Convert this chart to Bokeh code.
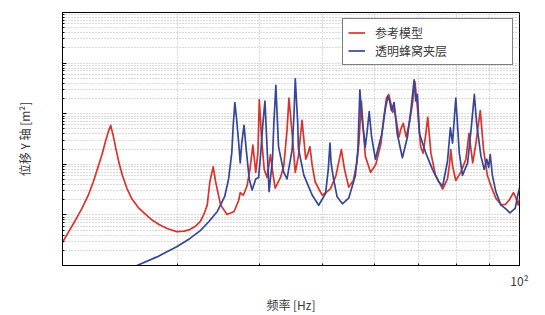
from bokeh.plotting import figure
from bokeh.models import FixedTicker, CustomJSTickFormatter, Legend, LegendItem
from bokeh.embed import file_html
from bokeh.resources import INLINE

# ---- data (frequency in Hz, displacement in m^2) ----
red_freq = [20.0, 20.4, 20.9, 21.4, 21.9, 22.3, 22.7, 23.0, 23.3, 23.5,
            23.7, 23.9, 24.1, 24.4, 24.7, 25.1, 25.5, 26.1, 26.8, 27.4,
            28.1, 28.9, 29.9, 30.7, 31.3, 31.9, 32.5, 32.9, 33.3, 33.6,
            34.0, 34.3, 34.9, 35.7,
            36.6, 37.2, 37.4, 37.8, 38.3, 38.7, 39.1, 39.5, 39.8, 40.0,
            40.3, 40.7, 41.1, 41.6, 42.0, 42.3, 43.1, 43.6, 44.1, 44.4,
            44.9, 45.4, 45.9, 46.5, 47.1, 47.4, 47.8, 48.2, 48.7, 49.9,
            50.8, 51.4, 52.4, 53.4, 54.0, 54.8, 55.7, 56.4, 56.8, 57.3,
            57.6, 58.1, 59.2, 60.3, 61.4, 62.0, 62.6, 63.1, 63.6, 64.0,
            64.3, 64.8, 65.4, 65.9, 66.4, 67.1, 67.8, 68.6, 69.2, 69.8,
            70.6, 71.2, 71.8, 72.4, 73.2, 74.4, 76.3, 77.6, 78.2, 78.5,
            79.0, 79.9, 81.3, 82.8, 83.7, 84.8, 85.8, 86.4, 87.1, 88.1,
            89.3, 90.4, 92.0, 93.8, 95.2, 96.4, 97.9, 98.8, 99.5, 100.0]
red_disp = [2.88e-10, 4.47e-10, 7.59e-10, 1.32e-9, 2.45e-9, 4.57e-9, 9.33e-9, 1.62e-8, 3.02e-8, 4.37e-8,
            5.89e-8, 3.80e-8, 2.24e-8, 1.07e-8, 6.03e-9, 3.31e-9, 2.14e-9, 1.41e-9, 1.02e-9, 7.94e-10,
            6.46e-10, 5.37e-10, 4.68e-10, 4.79e-10, 5.13e-10, 5.89e-10, 7.41e-10, 1.02e-9, 1.58e-9, 4.47e-9,
            8.91e-9, 4.47e-9, 1.58e-9, 1.02e-9,
            1.17e-9, 1.95e-9, 2.75e-9, 2.45e-9, 3.72e-9, 7.94e-9, 2.40e-8, 6.92e-9, 1.66e-8, 1.91e-7,
            3.47e-8, 7.94e-9, 5.50e-9, 1.55e-8, 6.03e-9, 3.39e-9, 5.50e-9, 9.33e-9, 4.68e-8, 2.04e-7,
            4.07e-8, 6.92e-9, 1.45e-8, 7.41e-8, 1.26e-8, 1.55e-8, 2.24e-8, 9.33e-9, 4.47e-9, 2.45e-9,
            2.88e-9, 3.31e-9, 6.03e-9, 1.95e-8, 7.94e-9, 3.55e-9, 4.79e-9, 1.07e-8, 2.63e-8, 1.78e-7,
            6.31e-8, 1.45e-8, 6.92e-9, 1.00e-8, 2.63e-8, 8.51e-8, 2.04e-7, 2.40e-7, 1.55e-7, 1.07e-7,
            1.32e-7, 7.41e-8, 3.47e-8, 5.13e-8, 6.46e-8, 3.47e-8, 6.31e-8, 1.58e-7, 4.27e-7, 1.32e-7,
            2.24e-8, 1.66e-8, 3.47e-8, 8.51e-8, 1.66e-8, 6.03e-9, 3.24e-9, 5.13e-9, 1.07e-8, 1.95e-8,
            9.33e-9, 4.79e-9, 6.92e-9, 1.26e-8, 4.07e-8, 1.07e-8, 2.63e-8, 5.50e-8, 1.15e-7, 1.95e-8,
            6.03e-9, 3.80e-9, 2.14e-9, 1.58e-9, 1.62e-9, 1.95e-9, 2.75e-9, 2.14e-9, 1.58e-9, 2.04e-9]

blue_freq = [24.9, 26.0, 27.9, 29.9, 31.3, 32.5, 33.5, 34.5, 35.4, 35.9,
             36.3, 36.5, 36.7, 36.9, 37.2, 37.4, 37.6, 37.9, 38.2, 38.6,
             39.0, 39.5, 39.9, 40.2, 40.5, 40.8, 41.1, 41.4, 41.9, 42.1,
             42.4, 42.8, 43.6, 44.1, 44.9, 45.2, 45.4, 45.8, 45.9, 46.8,
             48.2, 49.3, 50.5, 51.0, 51.3, 51.5, 51.9, 52.6, 53.6, 54.8,
             56.1, 56.6, 57.0, 57.4, 58.1, 58.5, 58.9, 59.4, 60.2, 61.6,
             62.4, 62.9, 63.3, 63.7, 64.3, 65.0, 66.2, 67.4, 68.2, 69.0,
             69.4, 69.8, 70.3, 71.9, 73.6, 75.3, 76.3, 77.6, 78.4, 79.0,
             79.9, 80.9, 81.8, 83.3, 84.4, 85.3, 86.0, 87.3, 88.3, 89.1,
             89.7, 90.2, 90.9, 92.0, 93.6, 95.3, 96.7, 98.5, 99.4, 100.0]
blue_disp = [7.76e-11, 1.00e-10, 1.48e-10, 2.34e-10, 3.39e-10, 4.90e-10, 7.41e-10, 1.17e-9, 2.29e-9, 5.13e-9,
             1.66e-8, 6.31e-8, 1.66e-7, 8.51e-8, 2.63e-8, 1.07e-8, 2.63e-8, 5.89e-8, 1.95e-8, 5.13e-9,
             3.09e-9, 5.13e-9, 5.50e-9, 1.66e-8, 6.31e-8, 1.78e-7, 2.24e-8, 2.88e-9, 1.26e-8, 6.31e-8,
             3.63e-7, 2.24e-8, 6.92e-9, 5.13e-9, 1.95e-8, 9.77e-8, 4.90e-7, 6.31e-8, 2.09e-8, 6.03e-9,
             2.45e-9, 1.55e-9, 2.63e-9, 7.94e-9, 2.63e-8, 1.07e-8, 5.50e-9, 2.29e-9, 1.66e-9, 2.14e-9,
             6.03e-9, 1.95e-8, 2.95e-7, 8.51e-8, 2.19e-8, 4.68e-8, 1.10e-7, 3.47e-8, 1.26e-8, 4.07e-8,
             1.32e-7, 2.19e-7, 1.78e-7, 1.15e-7, 1.66e-7, 4.07e-8, 1.35e-8, 3.47e-8, 1.15e-7, 4.68e-7,
             1.78e-7, 2.40e-7, 4.07e-8, 1.66e-8, 7.94e-9, 4.47e-9, 3.72e-9, 1.15e-8, 5.25e-8, 2.63e-8,
             2.04e-7, 1.66e-8, 6.03e-9, 1.07e-8, 5.50e-8, 2.40e-7, 6.31e-8, 1.45e-8, 7.94e-9, 1.26e-8,
             8.71e-9, 1.55e-8, 6.03e-9, 2.88e-9, 1.58e-9, 1.32e-9, 1.10e-9, 1.35e-9, 2.45e-9, 3.39e-9]

series_labels = ["参考模型", "透明蜂窝夹层"]
x_major_ticks = [100]
x_major_labels = {100: "10²"}
x_minor_ticks = [30, 40, 50, 60, 70, 80, 90]
y_major_ticks = [1e-10, 1e-9, 1e-8, 1e-7, 1e-6, 1e-5]
y_minor_ticks = [m * d for d in [1e-10, 1e-9, 1e-8, 1e-7, 1e-6] for m in range(2, 10)]
x_label = "频率 [Hz]"
y_label = "位移 Y 轴 [m²]"

RED = "#d9342b"
BLUE = "#36479a"
FONT = "Noto Sans CJK SC"
TXT = "#3a3a3a"

p = figure(width=545, height=315, x_axis_type="log", y_axis_type="log",
           x_range=(20, 100), y_range=(1e-10, 1e-5),
           output_backend="svg", toolbar_location=None,
           min_border_left=62, min_border_right=26, min_border_top=12, min_border_bottom=43)
p.background_fill_color = "white"
p.border_fill_color = "white"
p.outline_line_color = "black"
p.outline_line_width = 1

r1 = p.line(red_freq, red_disp, line_color=RED, line_width=1.7, line_join="round")
r2 = p.line(blue_freq, blue_disp, line_color=BLUE, line_width=1.7, line_join="round")

p.xaxis.ticker = FixedTicker(ticks=x_major_ticks, minor_ticks=x_minor_ticks)
p.yaxis.ticker = FixedTicker(ticks=y_major_ticks, minor_ticks=y_minor_ticks)
p.xaxis.major_label_overrides = x_major_labels
p.yaxis.formatter = CustomJSTickFormatter(code="return ''")

for ax in (p.xaxis[0], p.yaxis[0]):
    ax.axis_line_color = "black"
    ax.axis_line_width = 1
    ax.major_tick_in = 4
    ax.major_tick_out = 0
    ax.minor_tick_in = 2
    ax.minor_tick_out = 0
    ax.major_tick_line_color = "black"
    ax.minor_tick_line_color = "black"
    ax.major_label_text_font = FONT
    ax.major_label_text_font_size = "12px"
    ax.major_label_text_color = TXT
    ax.axis_label_text_font = FONT
    ax.axis_label_text_font_size = "12px"
    ax.axis_label_text_font_style = "normal"
    ax.axis_label_text_color = TXT

p.xaxis.axis_label = x_label
p.yaxis.axis_label = y_label
p.xaxis.major_label_standoff = 6
p.xaxis.axis_label_standoff = 4
p.yaxis.major_label_standoff = 0
p.yaxis.axis_label_standoff = 30

for g in (p.xgrid[0], p.ygrid[0]):
    g.grid_line_color = "#b4b4b4"
    g.grid_line_dash = "1 2"
    g.grid_line_width = 1
    g.minor_grid_line_color = "#b4b4b4"
    g.minor_grid_line_dash = "1 2"
    g.minor_grid_line_width = 1

legend = Legend(items=[LegendItem(label=series_labels[0], renderers=[r1]),
                       LegendItem(label=series_labels[1], renderers=[r2])],
                location="top_right", margin=6, padding=5, spacing=1,
                glyph_width=17, glyph_height=13, label_height=13, label_width=132,
                label_standoff=10,
                label_text_font=FONT, label_text_font_size="12px", label_text_color=TXT,
                border_line_color="black", border_line_width=1,
                background_fill_color="white", background_fill_alpha=1.0)
p.add_layout(legend)

open("out.html", "w").write(file_html(p, INLINE))
